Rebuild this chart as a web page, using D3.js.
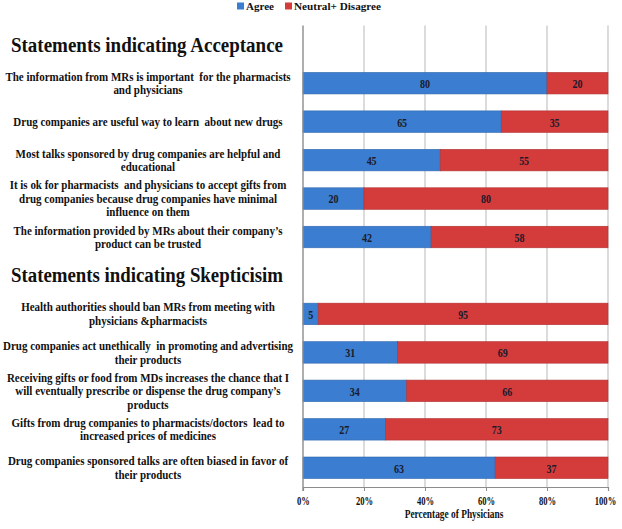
<!DOCTYPE html>
<html>
<head>
<meta charset="utf-8">
<script src="https://cdn.jsdelivr.net/npm/d3@7"></script>
<style>
  html, body { margin: 0; padding: 0; background: #fff; }
  svg { display: block; }
  text { font-family: "Liberation Serif", "Tinos", "Times New Roman", Times, "Nimbus Roman", serif; font-weight: bold; }
</style>
</head>
<body>
<div id="chart"></div>
<script>
// ---- data ----
const categories = [
  "Statements indicating Acceptance",
  "The information from MRs is important  for the pharmacists|and physicians",
  "Drug companies are useful way to learn  about new drugs",
  "Most talks sponsored by drug companies are helpful and|educational",
  "It is ok for pharmacists  and physicians to accept gifts from|drug companies because drug companies have minimal|influence on them",
  "The information provided by MRs about their company\u2019s|product can be trusted",
  "Statements indicating Skepticisim",
  "Health authorities should ban MRs from meeting with|physicians &pharmacists",
  "Drug companies act unethically  in promoting and advertising|their products",
  "Receiving gifts or food from MDs increases the chance that I|will eventually prescribe or dispense the drug company\u2019s|products",
  "Gifts from drug companies to pharmacists/doctors  lead to|increased prices of medicines",
  "Drug companies sponsored talks are often biased in favor of|their products"
];
const headers = ["Statements indicating Acceptance", "Statements indicating Skepticisim"];
const agree    = [null, 80, 65, 45, 20, 42, null, 5, 31, 34, 27, 63];
const disagree = [null, 20, 35, 55, 80, 58, null, 95, 69, 66, 73, 37];
const seriesNames = ["Agree", "Neutral+ Disagree"];
const xTicks = [0, 20, 40, 60, 80, 100];
const xTitle = "Percentage of Physicians";

// ---- layout ----
const W = 622, H = 529;
const mLeft = 303, mRight = 608, mTop = 25.5, mBottom = 487;
const colors = ["#3b7dd0", "#d43c3c"];

const svg = d3.select("#chart").append("svg").attr("width", W).attr("height", H);

// narrow the fallback serif so it takes the width of the reference's Times-like face
function squeeze(sel, f) {
  sel.each(function () {
    const w = this.getComputedTextLength();
    if (w > 0) d3.select(this).attr("textLength", w * f).attr("lengthAdjust", "spacingAndGlyphs");
  });
}

const x = d3.scaleLinear().domain([0, 100]).range([mLeft, mRight]);
const y = d3.scaleBand().domain(d3.range(categories.length)).range([mTop, mBottom]).paddingInner(0.44).paddingOuter(0.22);

// gridlines
svg.append("g").selectAll("line").data(xTicks.filter(d => d > 0)).join("line")
  .attr("x1", d => x(d)).attr("x2", d => x(d))
  .attr("y1", mTop).attr("y2", mBottom)
  .attr("stroke", "#c4c4c4").attr("stroke-width", 1.2);

// stacked bars
const rows = categories.map((c, i) => ({i, a: agree[i], d: disagree[i]})).filter(r => r.a !== null);
const segs = [];
rows.forEach(r => {
  segs.push({i: r.i, x0: 0, x1: r.a, v: r.a, s: 0});
  segs.push({i: r.i, x0: r.a, x1: r.a + r.d, v: r.d, s: 1});
});
svg.append("g").selectAll("rect").data(segs).join("rect")
  .attr("x", d => x(d.x0)).attr("width", d => x(d.x1) - x(d.x0))
  .attr("y", d => y(d.i)).attr("height", y.bandwidth())
  .attr("fill", d => colors[d.s])
  .attr("stroke", d => d.s === 0 ? "#3469ad" : "#b03232").attr("stroke-width", 0.6);

const vals = svg.append("g").selectAll("text").data(segs).join("text")
  .attr("x", d => (x(d.x0) + x(d.x1)) / 2)
  .attr("y", d => y(d.i) + y.bandwidth() / 2)
  .attr("dy", "0.36em").attr("text-anchor", "middle")
  .attr("font-size", 13.5).attr("fill", "#1a1a2a")
  .text(d => d.v);
squeeze(vals, 0.74);

// axes
const xAxis = d3.axisBottom(x).tickValues(xTicks).tickFormat(d => d + "%").tickSize(4).tickPadding(5);
const gx = svg.append("g").attr("transform", `translate(0,${mBottom})`).call(xAxis);
gx.attr("font-family", null).attr("font-size", null);
gx.select(".domain").attr("stroke", "#8c8c8c").attr("stroke-width", 1.2);
gx.selectAll(".tick line").attr("stroke", "#8c8c8c");
const tt = gx.selectAll(".tick text").attr("font-size", 13).attr("fill", "#111")
  .attr("dx", d => d === 100 ? -3 : 0);
squeeze(tt, 0.66);

svg.append("line").attr("x1", mLeft).attr("x2", mLeft).attr("y1", mTop).attr("y2", mBottom + 4)
  .attr("stroke", "#8c8c8c").attr("stroke-width", 1.4);

const xt = svg.append("text").attr("x", 454).attr("y", 518)
  .attr("text-anchor", "middle").attr("font-size", 12).attr("fill", "#111")
  .text(xTitle);
squeeze(xt, 0.78);

// category labels
const labelCx = 148, lineH = 13.6;
const lineSel = [];
categories.forEach((c, i) => {
  const cy = y(i) + y.bandwidth() / 2;
  if (headers.includes(c)) {
    svg.append("text").attr("x", 11).attr("y", cy).attr("dy", "0.35em")
      .attr("font-size", 20).attr("fill", "#111")
      .attr("textLength", 272).attr("lengthAdjust", "spacingAndGlyphs")
      .text(c);
    return;
  }
  const lines = c.split("|");
  lines.forEach((ln, k) => {
    const t = svg.append("text").attr("text-anchor", "middle").attr("font-size", 12.3).attr("fill", "#111")
      .attr("x", labelCx)
      .attr("y", cy + (k - (lines.length - 1) / 2) * lineH)
      .attr("dy", "0.35em")
      .attr("xml:space", "preserve")
      .text(ln);
    lineSel.push(t.node());
  });
});
// widest reference line spans ~290px
const maxW = d3.max(lineSel, n => n.getComputedTextLength());
squeeze(d3.selectAll(lineSel), 290 / maxW);

// legend
const lg = svg.append("g");
const legX = [237, 285];
const legW = [28, 87];
seriesNames.forEach((s, k) => {
  lg.append("rect").attr("x", legX[k]).attr("y", 2.5).attr("width", 7).attr("height", 7).attr("fill", colors[k]);
  lg.append("text").attr("x", legX[k] + 9).attr("y", 6).attr("dy", "0.35em")
    .attr("font-size", 10.5).attr("fill", "#111")
    .attr("textLength", legW[k]).attr("lengthAdjust", "spacingAndGlyphs").text(s);
});
</script>
</body>
</html>
